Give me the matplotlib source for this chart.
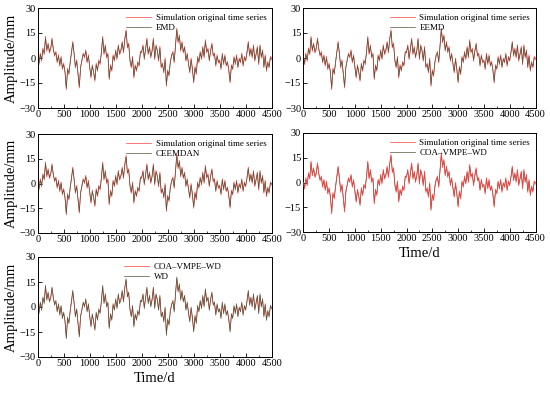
import matplotlib.pyplot as plt
import numpy as np

plt.rcParams['font.family'] = ['Liberation Serif', 'DejaVu Serif']

# Dane (co 25 dni)
dni = np.arange(0, 4501, 25)

oryginal = [
    0, -4, 3, -2, 6, 2, 13, 4, 9, 3, 5, 12, 6, 1, 4, -3, 2, -5, 1, -7,
    -3, -9, -19, -6, -10, -2, 4, 10, 2, -6, -1, -10, -18, -5, -2, 3,
    0, 5, -3, 2, -6, -12, -4, -9, -14, -3, -8, -1, -4, 4, 13, 2,
    8, 0, 3, -13, -4, -8, 2, -2, 5, -1, 8, 2, 4, 10, 3, 12,
    17, 6, 9, -2, -6, 1, -12, -4, -8, -2, -5, 4, 3, 8, -1, 6,
    12, 2, 7, 0, 5, 12, -1, 8, 4, -2, 7, -6, -3, -9, 0, -17,
    -7, -11, -2, 1, 4, -3, 8, 18, 9, 14, 4, 10, 3, 7, -2, 3,
    -4, -9, 0, -6, -15, -5, -10, 1, -3, 4, -1, 7, 0, 11, 3, 6,
    -2, 5, 9, 1, 3, -5, 2, -3, -1, -7, 3, -4, 2, -5, -2, -8,
    -15, -4, -7, 1, -4, 2, -6, 0, -3, 3, -5, 1, -2, 4, 10, 1,
    6, 0, 8, -2, 3, 7, -4, 8, 0, 5, -6, 2, -8, -2, -6, 1, -1,
]

odszumiony = [
    1, -3, 2, -1, 5, 3, 12, 5, 8, 4, 6, 11, 5, 2, 3, -2, 1, -4, 0, -6,
    -4, -8, -18, -7, -9, -3, 3, 9, 3, -5, -2, -9, -17, -6, -1, 2,
    1, 4, -2, 1, -5, -11, -5, -8, -13, -4, -7, -2, -3, 3, 12, 3,
    7, 1, 2, -12, -5, -7, 1, -1, 4, 0, 7, 3, 5, 9, 4, 11,
    16, 7, 8, -1, -5, 0, -11, -5, -7, -3, -4, 3, 4, 7, 0, 5,
    11, 3, 6, 1, 4, 11, 0, 7, 5, -1, 6, -5, -4, -8, -1, -16,
    -8, -10, -3, 2, 3, -2, 7, 17, 10, 13, 5, 9, 4, 6, -1, 2,
    -3, -8, -1, -7, -14, -6, -9, 0, -2, 3, 0, 6, 1, 10, 4, 5,
    -1, 4, 8, 2, 2, -4, 1, -2, -2, -6, 2, -3, 1, -4, -3, -7,
    -14, -5, -6, 0, -3, 1, -5, -1, -2, 2, -4, 0, -1, 3, 9, 2,
    5, 1, 7, -1, 2, 6, -3, 7, 1, 4, -5, 1, -7, -3, -5, 0, 0,
]

metody = ['EMD', 'EEMD', 'CEEMDAN', 'COA\u2013VMPE\u2013WD']
etykieta_oryg = 'Simulation original time series'

# Pozycje osi (lewo, góra, prawo, dół) w pikselach (550x396)
W, H = 550, 396
pozycje = [
    (37.7, 8, 271.7, 108),
    (303.3, 8, 535.5, 108),
    (37.7, 134, 271.7, 233),
    (303.3, 133, 535.5, 232),
    (37.7, 257, 271.7, 357),
]

fig = plt.figure(figsize=(5.5, 3.96), dpi=100)

kolor_oryg = '#ff3b3b'
kolor_met = '#55553a'


def nowa_os(p):
    x0, y0, x1, y1 = p
    ax = fig.add_axes([x0 / W, 1 - y1 / H, (x1 - x0) / W, (y1 - y0) / H])
    ax.set_xlim(0, 4500)
    ax.set_ylim(-30, 30)
    ax.set_xticks(np.arange(0, 4501, 500))
    ax.set_yticks([-30, -15, 0, 15, 30])
    ax.set_xticks(np.arange(250, 4500, 500), minor=True)
    ax.tick_params(direction='in', labelsize=7.5, length=3, pad=1.5, width=0.6)
    ax.tick_params(which='minor', direction='in', length=1.5, width=0.5)
    for s in ax.spines.values():
        s.set_linewidth(0.7)
    return ax


osie = []
for i, metoda in enumerate(metody):
    ax = nowa_os(pozycje[i])
    if i == 3:
        ax.plot(dni, odszumiony, color=kolor_met, lw=0.5, label=metoda, zorder=2)
        ax.plot(dni, oryginal, color=kolor_oryg, lw=0.5, label=etykieta_oryg, zorder=3)
        h, l = ax.get_legend_handles_labels()
        h, l = h[::-1], l[::-1]
    else:
        ax.plot(dni, oryginal, color=kolor_oryg, lw=0.5, label=etykieta_oryg)
        ax.plot(dni, odszumiony, color=kolor_met, lw=0.5, label=metoda)
        h, l = ax.get_legend_handles_labels()
    ax.legend(h, l, loc='upper right', frameon=False, fontsize=6.5,
              handlelength=2.8, handletextpad=0.5, labelspacing=0.25,
              borderaxespad=0.2)
    osie.append(ax)

# Panel dolny: COA-VMPE-WD vs WD
ax = nowa_os(pozycje[4])
ax.plot(dni, odszumiony, color=kolor_oryg, lw=0.5, label='COA\u2013VMPE\u2013WD')
ax.plot(dni, oryginal, color=kolor_met, lw=0.5, label='WD')
ax.legend(loc='upper right', frameon=False, fontsize=6.5,
          handlelength=2.8, handletextpad=0.5, labelspacing=0.25,
          borderaxespad=0.2, bbox_to_anchor=(0.81, 1.0))
osie.append(ax)

for i in (0, 2, 4):
    osie[i].set_ylabel('Amplitude/mm', fontsize=10.5, labelpad=1)
for i in (3, 4):
    osie[i].set_xlabel('Time/d', fontsize=10.5, labelpad=3)

fig.savefig('out.png', dpi=100)
